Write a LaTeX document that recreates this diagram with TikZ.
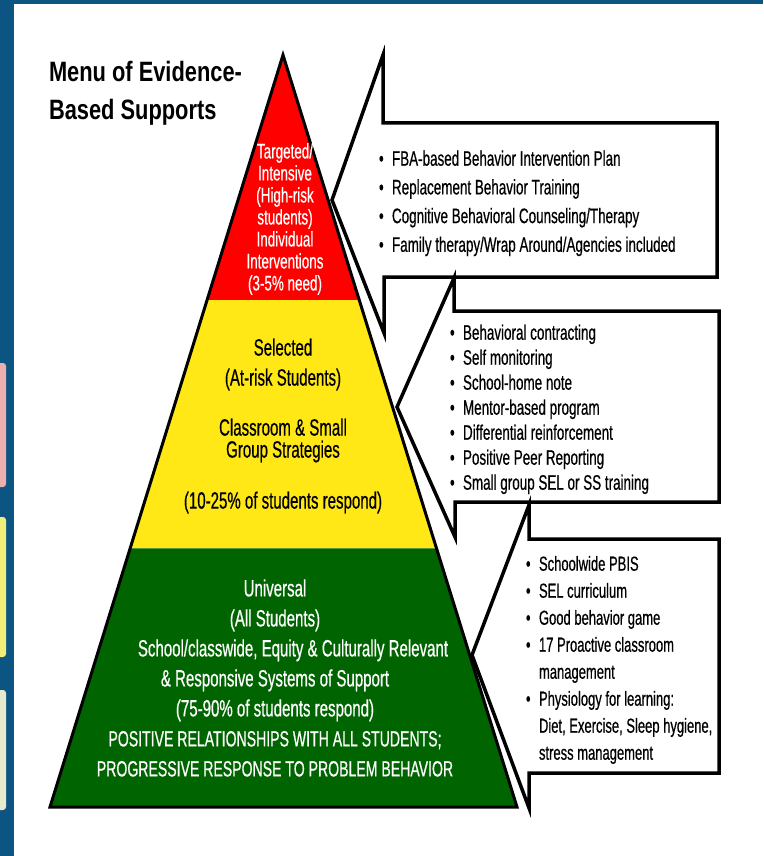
\documentclass[tikz,border=0pt]{standalone}
\usepackage{fontspec}
\setmainfont{Liberation Sans}[FakeStretch=0.64,FakeBold=0.5]
\newfontfamily\titlefont{Liberation Sans}[FakeStretch=0.78]
\usetikzlibrary{calc}

\definecolor{frameblue}{RGB}{12,85,130}
\definecolor{tierred}{RGB}{255,0,0}
\definecolor{tieryellow}{RGB}{255,232,22}
\definecolor{tiergreen}{RGB}{0,100,0}

\newcommand{\bul}{\makebox[13pt][l]{\textbullet}}
\newcommand{\capsline}{\fontsize{22}{30}\selectfont}

\begin{document}
\begin{tikzpicture}[x=1pt,y=-1pt,inner sep=0pt,outer sep=0pt,
tiertext/.style={align=center},
menutext/.style={anchor=north west,align=left},
callout/.style={draw,fill=white,line width=3.5pt,line join=miter}]

\useasboundingbox[fill=white] (0,0) rectangle (763,856);

% slide frame
\fill[frameblue] (0,0) rectangle (763,4);
\fill[frameblue] (0,0) rectangle (14,856);
\fill[rounded corners=3pt,fill={rgb,255:red,235;green,175;blue,175}] (-10,363) rectangle (6,487);
\fill[rounded corners=3pt,fill={rgb,255:red,240;green,238;blue,120}] (-10,517) rectangle (6,657);
\fill[rounded corners=3pt,fill={rgb,255:red,228;green,236;blue,205}] (-10,690) rectangle (6,810);

% pyramid
\coordinate (apex) at (283,55);
\coordinate (bl) at (50,807);
\coordinate (br) at (517,807);
\fill[tierred] (apex) -- ($(apex)!0.326!(bl)$) -- ($(apex)!0.326!(br)$) -- cycle;
\fill[tieryellow] ($(apex)!0.326!(bl)$) -- ($(apex)!0.656!(bl)$) -- ($(apex)!0.656!(br)$) -- ($(apex)!0.326!(br)$) -- cycle;
\fill[tiergreen] ($(apex)!0.656!(bl)$) -- (bl) -- (br) -- ($(apex)!0.656!(br)$) -- cycle;
\draw[line width=3pt,line join=miter] (apex) -- (bl) -- (br) -- cycle;

\node[anchor=north west,align=left,font=\titlefont\bfseries\fontsize{28}{38}\selectfont] (title) at (49,61) {Menu of Evidence-\\Based Supports};

\node[tiertext,text=white,font=\fontsize{21}{22}\selectfont] (tiered) at (285,219)
{Targeted/\\Intensive\\(High-risk\\students)\\Individual\\Interventions\\(3-5\% need)};
\node[tiertext,font=\fontsize{23.5}{22}\selectfont] (tieryel) at (283,426)
{Selected\\[8pt](At-risk Students)\\[28pt]Classroom \& Small\\Group Strategies\\[29pt](10-25\% of students respond)};
\node[tiertext,text=white,font=\fontsize{23.5}{30}\selectfont] (tiergrn) at (275,678)
{Universal\\(All Students)\\\hspace*{36pt}School/classwide, Equity \& Culturally Relevant\\\& Responsive Systems of Support\\(75-90\% of students respond)\\{\capsline POSITIVE RELATIONSHIPS WITH ALL STUDENTS;}\\{\capsline PROGRESSIVE RESPONSE TO PROBLEM BEHAVIOR}};

% callouts
\draw[callout] (717,123) -- (383,123) -- (383,55) -- (332,200) -- (384,333) -- (384,277) -- (717,277) -- cycle;
\draw[callout] (719,311) -- (454,311) -- (454,278) -- (397,407) -- (455,537) -- (455,502) -- (719,502) -- cycle;
\draw[callout] (719,539) -- (529,539) -- (529,505) -- (472,655) -- (529,808) -- (529,773) -- (719,773) -- cycle;

\node[menutext,font=\fontsize{21}{28.7}\selectfont] (menured) at (379,150.5)
{\bul FBA-based Behavior Intervention Plan\\\bul Replacement Behavior Training\\\bul Cognitive Behavioral Counseling/Therapy\\\bul Family therapy/Wrap Around/Agencies included};
\node[menutext,font=\fontsize{21}{25}\selectfont] (menuyel) at (450,324.5)
{\bul Behavioral contracting\\\bul Self monitoring\\\bul School-home note\\\bul Mentor-based program\\\bul Differential reinforcement\\\bul Positive Peer Reporting\\\bul Small group SEL or SS training};
\node[menutext,font=\fontsize{20.3}{27}\selectfont] (menugrn) at (526,556)
{\bul Schoolwide PBIS\\\bul SEL curriculum\\\bul Good behavior game\\\bul 17 Proactive classroom\\\hspace*{13pt}management\\\bul Physiology for learning:\\\hspace*{13pt}Diet, Exercise, Sleep hygiene,\\\hspace*{13pt}stress management};

\end{tikzpicture}
\end{document}
